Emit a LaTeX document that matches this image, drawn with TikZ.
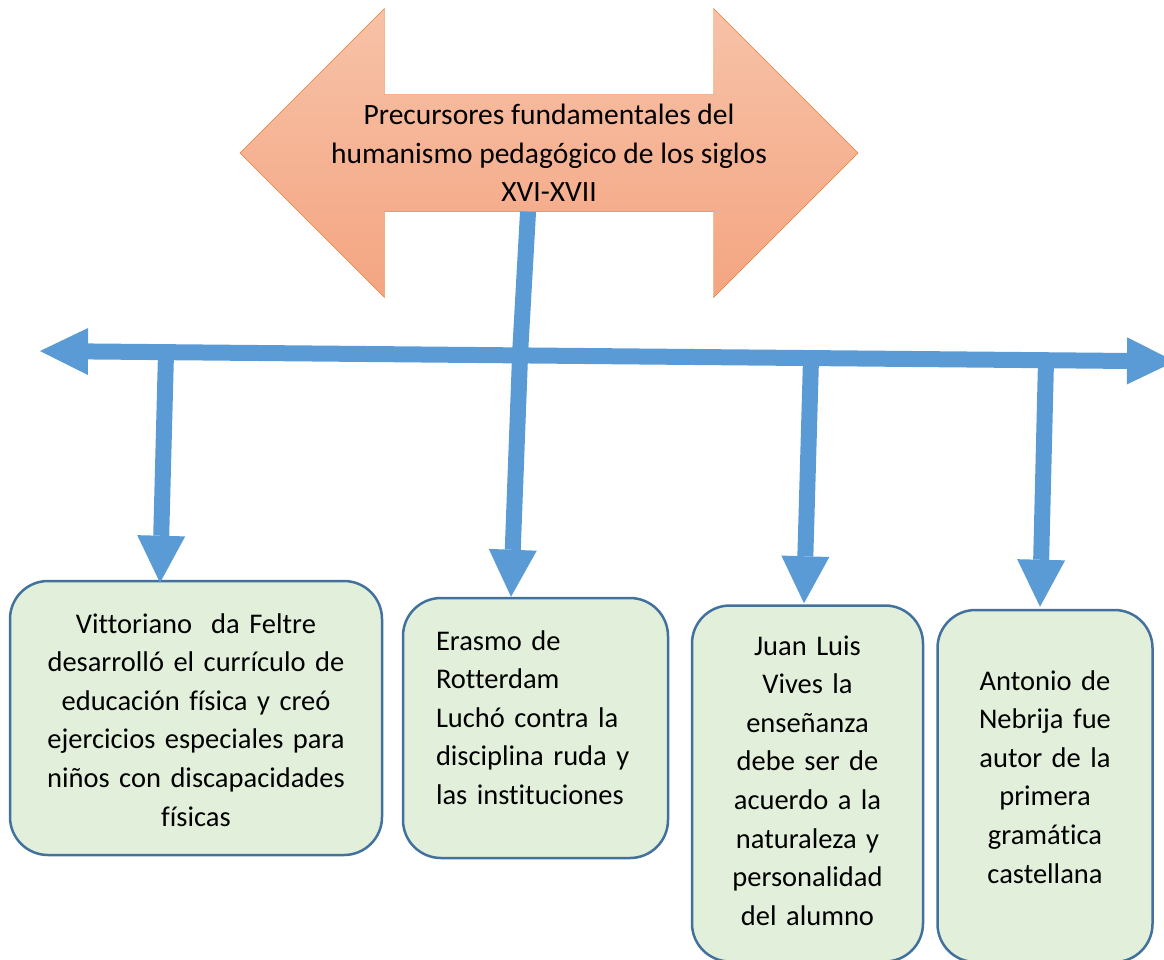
\documentclass[tikz,border=0pt]{standalone}
\usepackage{fontspec}
\setmainfont{Carlito}[Ligatures=NoCommon]
\usetikzlibrary{arrows.meta,shapes.arrows}
\definecolor{linkblue}{RGB}{91,155,213}
\definecolor{boxgreen}{RGB}{226,239,218}
\definecolor{boxline}{RGB}{65,113,156}
\definecolor{titletop}{RGB}{247,194,168}
\definecolor{titlebot}{RGB}{244,165,129}
\definecolor{titleline}{RGB}{237,125,49}
\tikzset{
    every node/.style = {font=\fontsize{28.5}{38.6}\selectfont},
    title/.style = {double arrow, draw=titleline, top color=titletop, bottom color=titlebot,
        double arrow head extend=72pt, double arrow tip angle=90,
        inner sep=0pt, minimum height=618pt, minimum width=289pt, align=center,
        font=\fontsize{29.5}{38.6}\selectfont},
    box/.style = {draw=boxline, fill=boxgreen, line width=2.5pt, rounded corners=38pt,
        inner sep=0pt, text height=0pt},
    link/.style = {draw=linkblue, line width=16pt},
    headed/.style = {link, -{Triangle[width=48pt,length=47pt,line width=0pt]}},
    timeline/.style = {link, {Triangle[width=47pt,length=48pt,line width=0pt]}-{Triangle[width=47pt,length=48pt,line width=0pt]}}
}

\begin{document}
\begin{tikzpicture}[x=1pt,y=-1pt]
    \useasboundingbox (0,0) rectangle (1164,959);
    \node [title] (title) at (549,153) {Precursores fundamentales del\\humanismo pedagógico de los siglos\\XVI-XVII};
    \coordinate (tl) at (40,351);
    \coordinate (tr) at (1175,361.4);
    \coordinate (hub) at (520,355);
    \draw [link] ([xshift=-21pt]title.south) -- (hub);
    \draw [timeline] (tl) -- (tr);
    \node [box, minimum width=372pt, minimum height=274pt, text width=352pt, align=center, text depth=170pt] (vit) at (196,718)
        {Vittoriano~ da Feltre\\desarrolló el currículo de\\educación física y creó\\ejercicios especiales para\\niños con discapacidades\\físicas};
    \node [box, minimum width=265pt, minimum height=260pt, text width=199pt, align=left, text depth=156pt] (era) at (535.5,728)
        {Erasmo de\\Rotterdam\\Luchó contra la\\disciplina ruda y\\las instituciones};
    \node [box, minimum width=231pt, minimum height=356pt, text width=215pt, align=center, text depth=257pt] (viv) at (807.5,783.5)
        {Juan Luis\\Vives la\\enseñanza\\debe ser de\\acuerdo a la\\naturaleza y\\personalidad\\del alumno};
    \node [box, minimum width=215pt, minimum height=352pt, text width=200pt, align=center, text depth=192pt] (neb) at (1045,786)
        {Antonio de\\Nebrija fue\\autor de la\\primera\\gramática\\castellana};
    \coordinate (s1) at (166,353);
    \coordinate (s2) at (520,357);
    \coordinate (s3) at (811,359);
    \coordinate (s4) at (1046,361);
    \draw [headed] (s1) -- ([xshift=-36pt,yshift=-3pt]vit.north);
    \draw [headed] (s2) -- ([xshift=-24.5pt]era.north);
    \draw [headed] (s3) -- ([xshift=-3.5pt,yshift=1pt]viv.north);
    \draw [headed] (s4) -- ([xshift=-5pt,yshift=2pt]neb.north);
\end{tikzpicture}
\end{document}
